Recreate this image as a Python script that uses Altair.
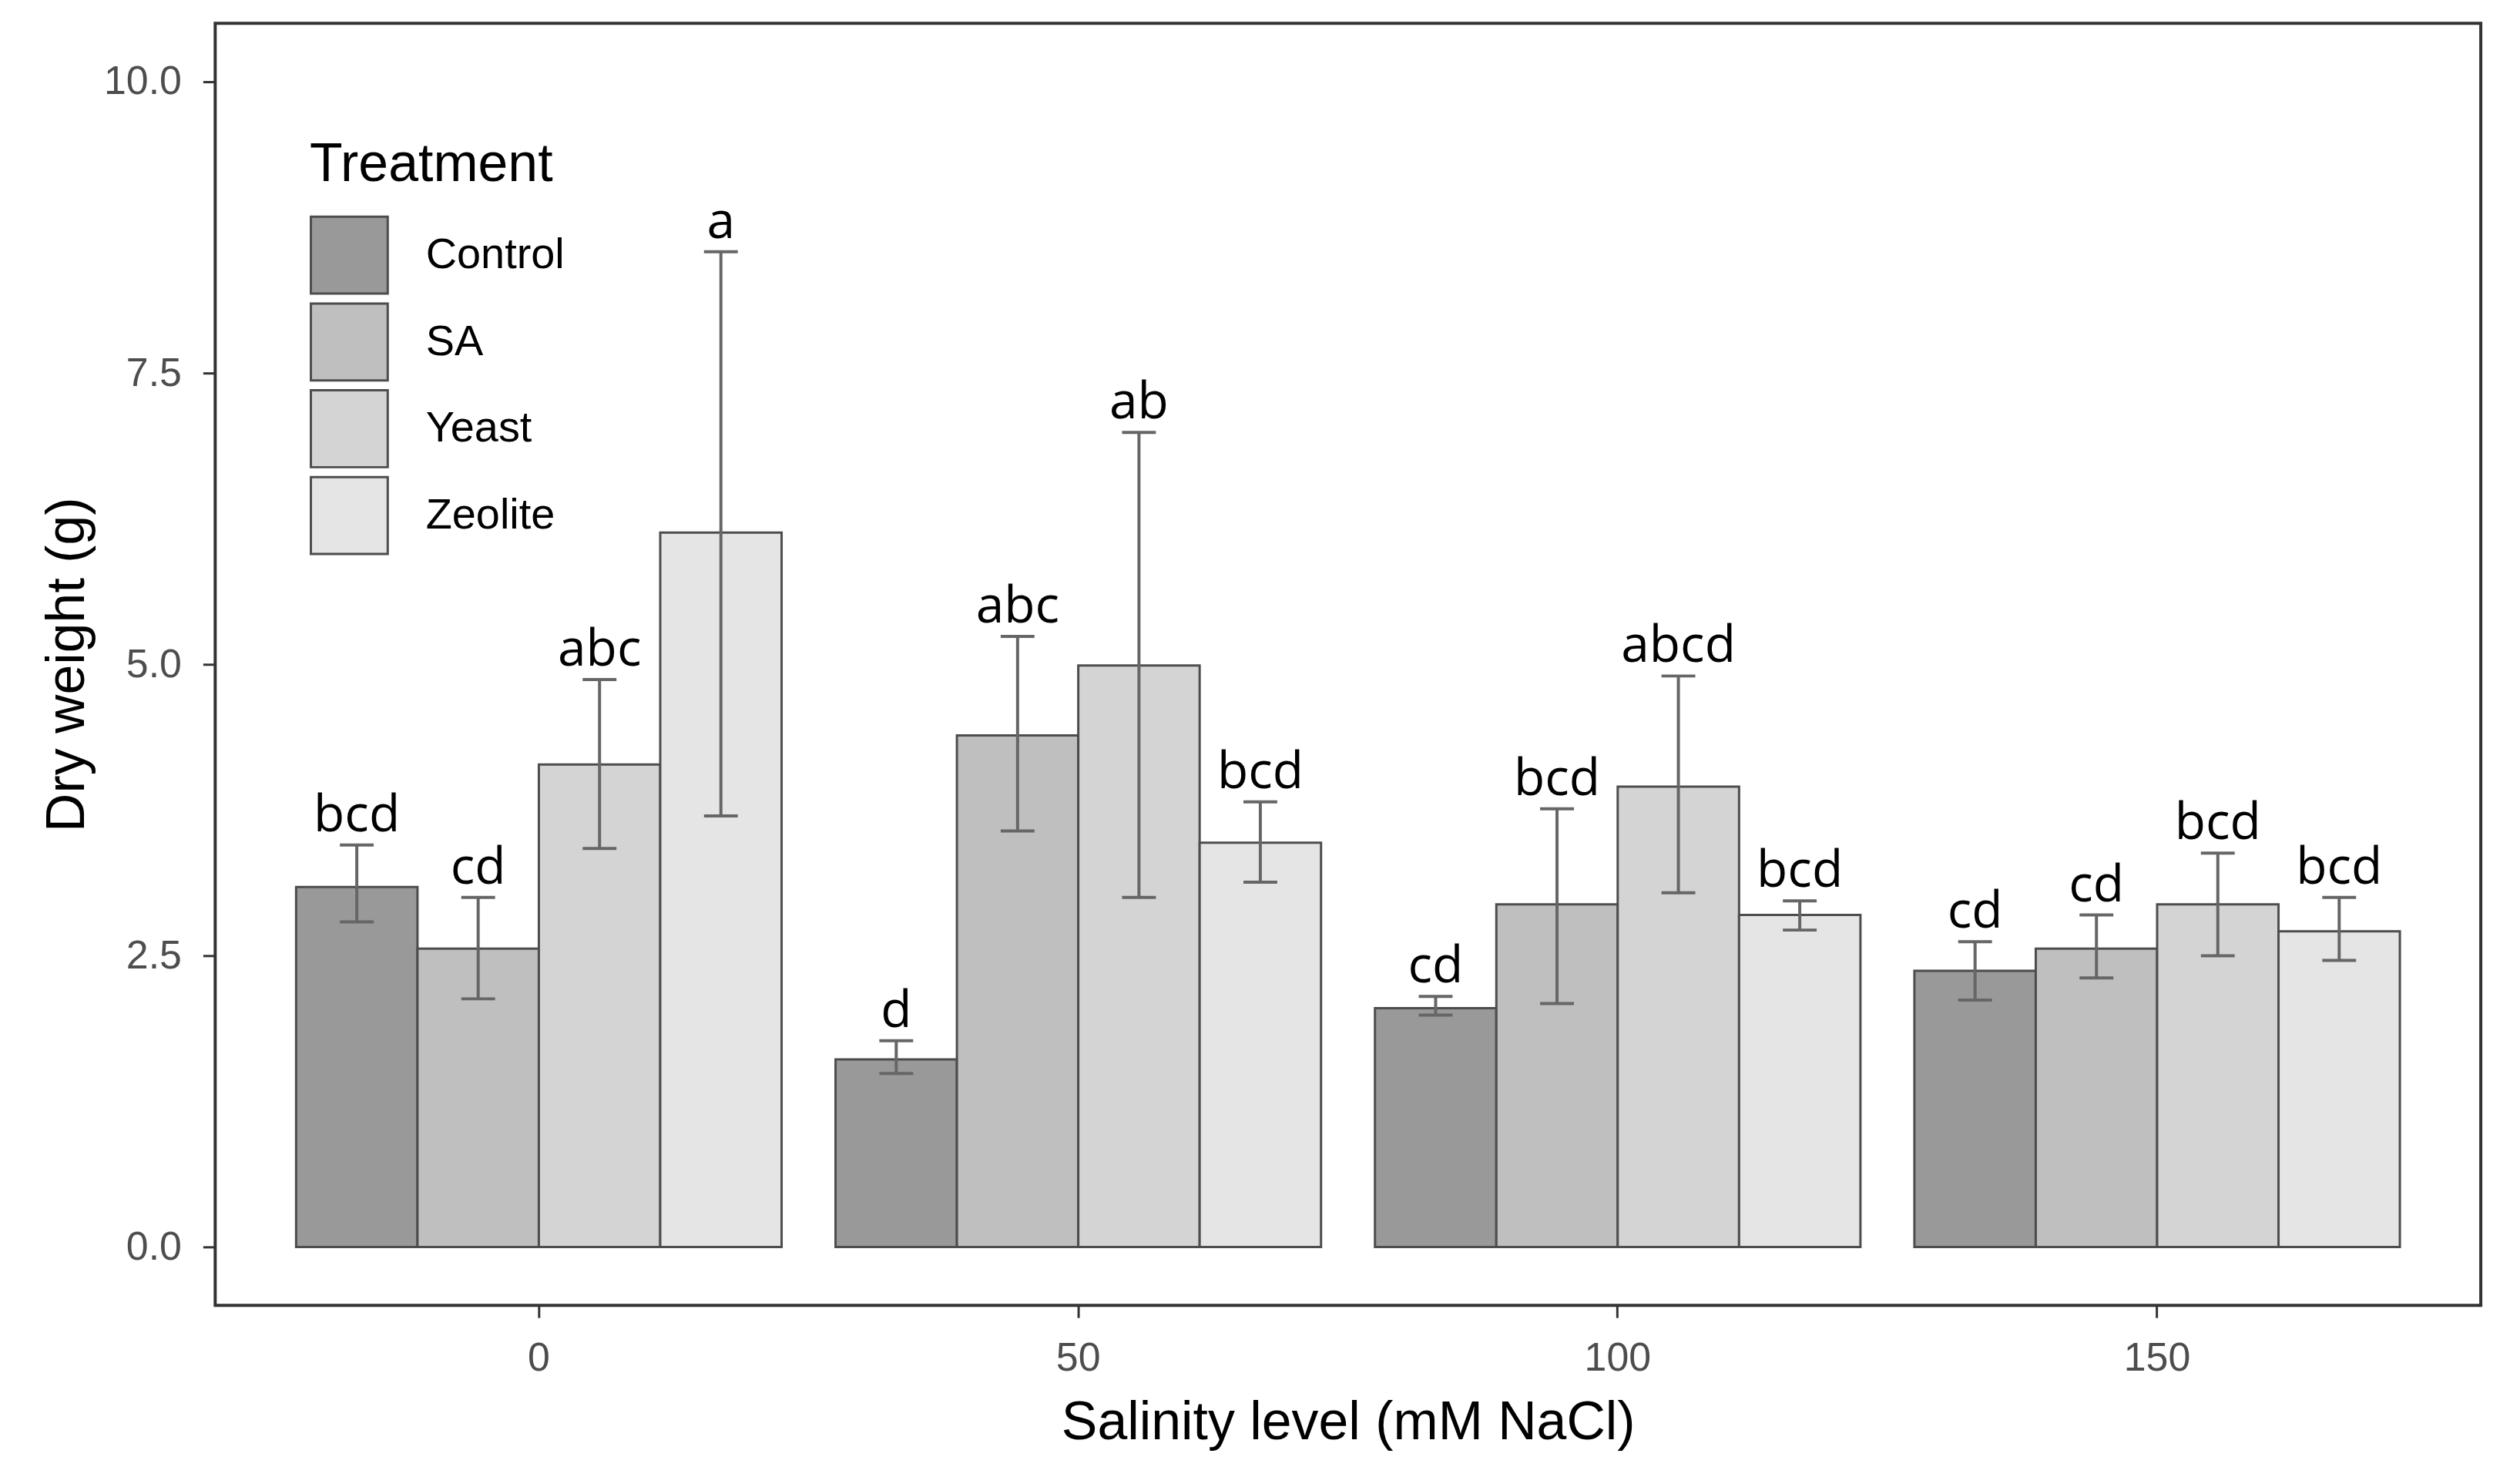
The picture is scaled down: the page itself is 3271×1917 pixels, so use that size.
import altair as alt
import pandas as pd

salinity = ["0", "50", "100", "150"]
treatments = ["Control", "SA", "Yeast", "Zeolite"]
fill_colors = ["#999999", "#BFBFBF", "#D4D4D4", "#E5E5E5"]

mean_control = [3.09, 1.61, 2.05, 2.37]
mean_sa = [2.56, 4.39, 2.94, 2.56]
mean_yeast = [4.14, 4.99, 3.95, 2.94]
mean_zeolite = [6.13, 3.47, 2.85, 2.71]

upper_control = [3.45, 1.77, 2.15, 2.62]
upper_sa = [3.00, 5.24, 3.76, 2.85]
upper_yeast = [4.87, 6.99, 4.90, 3.38]
upper_zeolite = [8.54, 3.82, 2.97, 3.00]

lower_control = [2.79, 1.49, 1.99, 2.12]
lower_sa = [2.13, 3.57, 2.09, 2.31]
lower_yeast = [3.42, 3.00, 3.04, 2.50]
lower_zeolite = [3.70, 3.13, 2.72, 2.46]

letters_control = ["bcd", "d", "cd", "cd"]
letters_sa = ["cd", "abc", "bcd", "cd"]
letters_yeast = ["abc", "ab", "abcd", "bcd"]
letters_zeolite = ["a", "bcd", "bcd", "bcd"]

means = [mean_control, mean_sa, mean_yeast, mean_zeolite]
uppers = [upper_control, upper_sa, upper_yeast, upper_zeolite]
lowers = [lower_control, lower_sa, lower_yeast, lower_zeolite]
letters = [letters_control, letters_sa, letters_yeast, letters_zeolite]

rows = []
for ti, t in enumerate(treatments):
    for si, s in enumerate(salinity):
        rows.append({
            "Salinity": s,
            "Treatment": t,
            "mean": means[ti][si],
            "upper": uppers[ti][si],
            "lower": lowers[ti][si],
            "letter": letters[ti][si],
        })
df = pd.DataFrame(rows)

AX_FONT = "Liberation Sans"
W, H = 2948, 1668

x_enc = alt.X(
    "Salinity:N",
    sort=salinity,
    scale=alt.Scale(paddingInner=0.1, paddingOuter=0.15),
    axis=alt.Axis(
        title="Salinity level (mM NaCl)",
        labelAngle=0,
        domain=False,
        grid=False,
        tickSize=16,
        tickWidth=3,
        tickColor="#333333",
        labelFont=AX_FONT,
        labelFontSize=52,
        labelColor="#4D4D4D",
        labelPadding=28,
        titleFont=AX_FONT,
        titleFontSize=70,
        titleFontWeight="normal",
        titleColor="#000000",
        titleX=W / 2,
        titleY=174,
        titleBaseline="alphabetic",
        titleAlign="center",
    ),
)
xoff_enc = alt.XOffset(
    "Treatment:N", sort=treatments, scale=alt.Scale(paddingInner=0, paddingOuter=0)
)
y_scale = alt.Scale(domain=[-0.5, 10.5], nice=False, zero=False)
y_axis = alt.Axis(
    title="Dry weight (g)",
    values=[0, 2.5, 5, 7.5, 10],
    format=".1f",
    domain=False,
    grid=False,
    tickSize=16,
    tickWidth=3,
    tickColor="#333333",
    labelFont=AX_FONT,
    labelFontSize=52,
    labelColor="#4D4D4D",
    labelPadding=28,
    titleFont=AX_FONT,
    titleFontSize=70,
    titleFontWeight="normal",
    titleColor="#000000",
    titleX=-192,
    titleY=H / 2,
    titleBaseline="middle",
    titleAlign="center",
    titleAngle=270,
)

base = alt.Chart(df).encode(x=x_enc, xOffset=xoff_enc)

bars = base.mark_bar(stroke="#4D4D4D", strokeWidth=3).encode(
    y=alt.Y("mean:Q", scale=y_scale, axis=y_axis),
    y2=alt.datum(0),
    color=alt.Color(
        "Treatment:N",
        sort=treatments,
        scale=alt.Scale(domain=treatments, range=fill_colors),
        legend=alt.Legend(
            title="Treatment",
            orient="none",
            legendX=123,
            legendY=150,
            titleFont=AX_FONT,
            titleFontSize=70,
            titleFontWeight="normal",
            titleColor="#000000",
            titlePadding=30,
            titleLimit=800,
            labelFont=AX_FONT,
            labelFontSize=56,
            labelColor="#000000",
            labelOffset=48,
            labelLimit=600,
            symbolType="square",
            symbolSize=10000,
            symbolStrokeColor="#4D4D4D",
            symbolStrokeWidth=3,
            symbolOpacity=1,
            rowPadding=0,
        ),
    ),
)

err_color = "#666666"
rules = base.mark_rule(color=err_color, strokeWidth=4).encode(
    y=alt.Y("lower:Q", scale=y_scale), y2="upper:Q"
)
cap_hi = base.mark_tick(color=err_color, thickness=4, size=44, opacity=1).encode(
    y=alt.Y("upper:Q", scale=y_scale)
)
cap_lo = base.mark_tick(color=err_color, thickness=4, size=44, opacity=1).encode(
    y=alt.Y("lower:Q", scale=y_scale)
)
labels = base.mark_text(
    font="Open Sans", fontSize=66, baseline="alphabetic", align="center", dy=-18, color="#000000"
).encode(y=alt.Y("upper:Q", scale=y_scale), text="letter:N")

chart = (
    alt.layer(bars, rules, cap_hi, cap_lo, labels)
    .properties(
        width=W,
        height=H,
        autosize=alt.AutoSizeParams(type="none"),
        padding={"left": 272, "top": 20, "right": 43, "bottom": 221},
        background="#FFFFFF",
    )
    .configure_view(stroke="#333333", strokeWidth=4)
)

chart.save("out.html", embed_options={"renderer": "svg", "actions": False})
